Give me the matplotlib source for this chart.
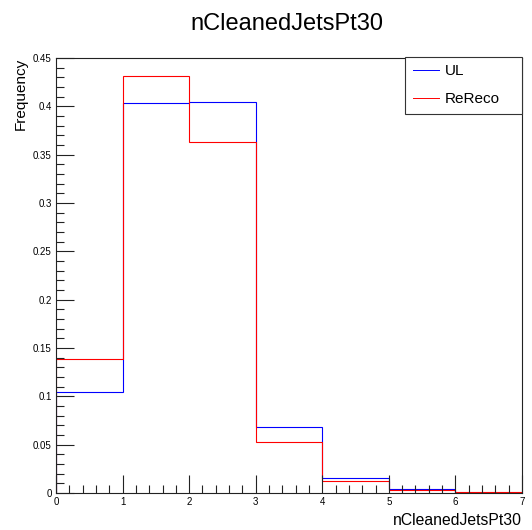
#!/usr/bin/env python3

import matplotlib
matplotlib.use("Agg")
import matplotlib.pyplot as plt
from matplotlib.ticker import MultipleLocator, FixedFormatter, FixedLocator

plt.rcParams['font.family'] = ['Liberation Sans', 'DejaVu Sans']

bin_edges = [0, 1, 2, 3, 4, 5, 6, 7]
ul_freq = [0.1045, 0.403, 0.4045, 0.068, 0.0155, 0.0038, 0.0005]
rereco_freq = [0.1386, 0.431, 0.363, 0.0528, 0.0124, 0.0028, 0.0008]

x_ticks = [0, 1, 2, 3, 4, 5, 6, 7]
y_ticks = [0, 0.05, 0.1, 0.15, 0.2, 0.25, 0.3, 0.35, 0.4, 0.45]
y_tick_labels = ["0", "0.05", "0.1", "0.15", "0.2", "0.25", "0.3", "0.35", "0.4", "0.45"]


def main():
    fig = plt.figure(figsize=(5.32, 5.30), dpi=100)
    ax = fig.add_axes([0.1053, 0.0698, 0.8759, 0.8208])

    ax.stairs(ul_freq, bin_edges, color='#0000ff', linewidth=0.8, label='UL')
    ax.stairs(rereco_freq, bin_edges, color='#ff0000', linewidth=0.8, label='ReReco')

    ax.set_xlim(0, 7)
    ax.set_ylim(0, 0.45)

    ax.xaxis.set_major_locator(FixedLocator(x_ticks))
    ax.xaxis.set_minor_locator(MultipleLocator(0.2))
    ax.yaxis.set_major_locator(FixedLocator(y_ticks))
    ax.yaxis.set_major_formatter(FixedFormatter(y_tick_labels))
    ax.yaxis.set_minor_locator(MultipleLocator(0.01))

    ax.tick_params(which='both', direction='in', top=False, right=False,
                   labelsize=7, width=0.8, color='#222222')
    ax.tick_params(which='major', length=13, pad=3)
    ax.tick_params(which='minor', length=6)

    for sp in ax.spines.values():
        sp.set_linewidth(0.8)
        sp.set_color('#222222')

    fig.suptitle("nCleanedJetsPt30", x=0.54, y=0.975, fontsize=17)
    ax.set_xlabel("nCleanedJetsPt30", fontsize=11.3, loc='right')
    ax.set_ylabel("Frequency", fontsize=11, loc='top')

    leg = ax.legend(loc='upper left', bbox_to_anchor=(0.749, 0.0, 0.251, 1.003),
                    mode='expand', fontsize=11,
                    fancybox=False, framealpha=1, edgecolor='#333333',
                    handlelength=1.7, borderpad=0.5, labelspacing=0.9,
                    handletextpad=0.4, borderaxespad=0)
    leg.get_frame().set_linewidth(0.8)
    for line in leg.get_lines():
        line.set_linewidth(0.7)

    plt.savefig("out.png", dpi=100)


if __name__ == "__main__":
    main()
